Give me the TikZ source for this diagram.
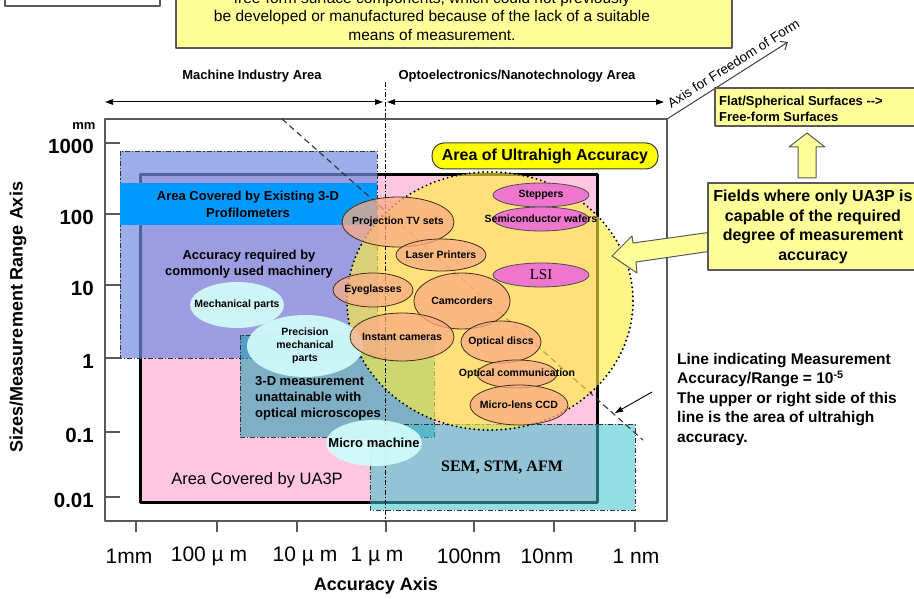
\documentclass[tikz,border=0pt]{standalone}
\usepackage{fontspec}
\setmainfont{Liberation Sans}
\newfontfamily\tms{Liberation Serif}
\usetikzlibrary{arrows.meta}
\newcommand\fsz[2]{\fontsize{#1}{#2}\selectfont}
\definecolor{noteyel}{RGB}{255,255,153}
\definecolor{pillyel}{RGB}{255,255,0}
\definecolor{circyel}{RGB}{255,240,60}
\definecolor{uapink}{RGB}{255,198,224}
\definecolor{bluereg}{RGB}{115,140,225}
\definecolor{bandblue}{RGB}{0,153,255}
\definecolor{tealreg}{RGB}{40,160,180}
\definecolor{semreg}{RGB}{60,195,205}
\definecolor{salmonc}{RGB}{250,172,132}
\definecolor{pinkc}{RGB}{238,118,205}
\definecolor{cyanc}{RGB}{208,250,250}
\begin{document}
\begin{tikzpicture}[x=1pt,y=-1pt,line join=round,>={Triangle[length=8pt,width=5.5pt]},
    box/.style={draw=black!65,line width=1.2pt},
    dashdot/.style={draw=black!80,line width=.9pt,dash pattern=on 5pt off 2pt on 1.2pt off 2pt},
    salm/.style={draw=black!65!brown,line width=.8pt,fill=salmonc,fill opacity=.75},
    pinkel/.style={draw=black!70,line width=.8pt,fill=pinkc},
    cyanel/.style={fill=cyanc,fill opacity=.95},
    lbl/.style={inner sep=0pt,font=\bfseries\fsz{#1}{#1}},
    lbl/.default=10.5]
    \useasboundingbox (0,0) rectangle (914,599);
    \path
    (105,102) coordinate (mL)
    (383,102) coordinate (mR)
    (387,102) coordinate (oL)
    (664,102) coordinate (oR)
    (385,82) coordinate (vT)
    (385,521) coordinate (vB)
    (667,119) coordinate (fc)
    (788,42) coordinate (ft)
    (282,119) coordinate (d1)
    (643,440) coordinate (d2)
    (652,392) coordinate (lp)
    (615,413) coordinate (lq)
    ;
    % header
    \draw[box,fill=white] (5,-10) rectangle (160,6);
    \draw[box,fill=noteyel] (176,-10) rectangle (732,48);
    \node[align=center,inner sep=0pt,font=\fsz{15.5}{18.5}] (lack) at (432,16)
      {free-form surface components, which could not previously\\be developed or manufactured because of the lack of a suitable\\means of measurement.};
    \node[lbl=13] (mia) at (252,76) {Machine Industry Area};
    \node[lbl=13] (ona) at (517,76) {Optoelectronics/Nanotechnology Area};
    \draw[<->,line width=1pt] (mL) -- (mR);
    \draw[<->,line width=1pt] (oL) -- (oR);
    % axes
    \draw[box,fill=white] (105,119) rectangle (667,521);
    \foreach \y/\t [count=\i] in {143/1000,214/100,285/10,358/1,432/0.1,497/0.01}
    {\draw[box] (105,\y) -- (120,\y);
     \node[lbl=20.5,anchor=east] (yl\i) at (94,\y+3) {\t};}
    \node[lbl=13] (mmu) at (84,126) {mm};
    \foreach \x in {136,217,297,386,474,554,635} \draw[box] (\x,521) -- (\x,532);
    \foreach \x/\t [count=\i] in {129/1mm,209/100 µ m,305/10 µ m,377/1 µ m,469/100nm,547/10nm,636/1 nm}
      \node[inner sep=0pt,font=\fsz{21}{21}] (xl\i) at (\x,556) {\t};
    \node[lbl=18] (xax) at (376,586) {Accuracy Axis};
    \node[lbl=18,rotate=90] (yax) at (18,317) {Sizes/Measurement Range Axis};
    % areas
    \draw[line width=3pt,fill=uapink] (140,175) rectangle (597,502);
    \draw[dashdot,fill=bluereg,fill opacity=.7] (120,151) rectangle (377,358);
    \fill[bandblue] (120,183) rectangle (377,225);
    \draw[dashdot,fill=tealreg,fill opacity=.6] (240,335) rectangle (434,437);
    \draw[dashdot,fill=semreg,fill opacity=.55] (370,424) rectangle (635,510);
    \node[align=center,font=\bfseries\fsz{13}{17},inner sep=0pt] (exist) at (248,204) {Area Covered by Existing 3-D\\Profilometers};
    \node[align=center,font=\bfseries\fsz{13}{16.5},inner sep=0pt] (machy) at (249,264) {Accuracy required by\\commonly used machinery};
    \node[align=left,anchor=west,font=\bfseries\fsz{13}{16},inner sep=0pt] (optm) at (255,398) {3-D measurement\\unattainable with\\optical microscopes};
    \node[inner sep=0pt,font=\fsz{16.5}{16.5}] (ua3p) at (257,480) {Area Covered by UA3P};
    \node[inner sep=0pt,font=\tms\bfseries\fsz{16}{16}] (sem) at (502,467) {SEM, STM, AFM};
    % ultrahigh accuracy
    \draw[line width=1.1pt,dash pattern=on 6pt off 4pt,black!80] (d1) -- (d2);
    \fill[circyel,opacity=.62] (490,301) ellipse [x radius=143,y radius=129];
    \draw[line width=2.2pt,line cap=round,dash pattern=on 0pt off 4.5pt] (490,301) ellipse [x radius=143,y radius=129];
    \draw[dashdot,line width=.8pt,draw=black] (vT) -- (vB);
    \foreach \x/\y/\rx/\ry in {237/305/47/23,305/346/58/31,374/443/48/23}
      \fill[cyanel] (\x,\y) ellipse [x radius=\rx,y radius=\ry];
    \foreach \x/\y/\rx/\ry in {398/222/56/25,441/255/45/16,373/290/40/17,462/301/48/28,402/337/52/24,501/342/40/21,517/374/40/14,519/405/49/20}
      \draw[salm] (\x,\y) ellipse [x radius=\rx,y radius=\ry];
    \foreach \y in {195,219,275}
      \draw[pinkel] (541,\y) ellipse [x radius=48,y radius=12];
    \foreach \x/\y/\t [count=\i] in {398/222/Projection TV sets,441/255/Laser Printers,373/290/Eyeglasses,462/301/Camcorders,402/337/Instant cameras,501/342/Optical discs,517/374/Optical communication,519/405/Micro-lens CCD,541/195/Steppers,541/219/Semiconductor wafers,237/305/Mechanical parts}
      \node[lbl] (f\i) at (\x,\y) {\t};
    \node[align=center,font=\bfseries\fsz{10.5}{13},inner sep=0pt] (prec) at (305,346) {Precision\\mechanical\\parts};
    \node[lbl=13] (micro) at (374,443) {Micro machine};
    \node[inner sep=0pt,font=\tms\fsz{15}{15}] (lsi) at (541,275) {LSI};
    \node[draw=black!75,line width=1pt,fill=pillyel,rounded corners=12pt,minimum width=226pt,minimum height=26pt,inner sep=0pt,font=\bfseries\fsz{16}{16}] (uha) at (545,156) {Area of Ultrahigh Accuracy};
    % right side
    \draw[-{Straight Barb[length=6pt,width=10pt]},line width=1pt,black!75] (fc) -- node[sloped,above=6pt,pos=.6,inner sep=0pt,font=\fsz{13.5}{13.5},text=black] (aff) {Axis for Freedom of Form} (ft);
    \draw[->,line width=.9pt] (lp) -- (lq);
    \node[anchor=north west,align=left,inner sep=0pt,font=\bfseries\fsz{15.5}{19.5}] (lnote) at (677,353) {Line indicating Measurement\\Accuracy/Range = 10\textsuperscript{-5}\\The upper or right side of this\\line is the area of ultrahigh\\accuracy.};
    \draw[box,line width=1pt,fill=noteyel] (612,256) -- (632,236) -- (633,243) -- (712,232) -- (712,251) -- (636,262) -- (637,273) -- cycle;
    \draw[box,fill=noteyel] (708,183) rectangle (930,270);
    \node[align=center,inner sep=0pt,font=\bfseries\fsz{16}{19.5}] (fields) at (813,227) {Fields where only UA3P is\\capable of the required\\degree of measurement\\accuracy};
    \draw[box,line width=1pt,fill=noteyel] (807,133) -- (825,147) -- (816,147) -- (816,178) -- (798,178) -- (798,147) -- (789,147) -- cycle;
    \draw[box,fill=noteyel] (715,88) rectangle (930,126);
    \node[anchor=west,align=left,inner sep=0pt,font=\bfseries\fsz{13}{15.5}] (flat) at (719,109) {Flat/Spherical Surfaces -{}->\\Free-form Surfaces};
\end{tikzpicture}
\end{document}
